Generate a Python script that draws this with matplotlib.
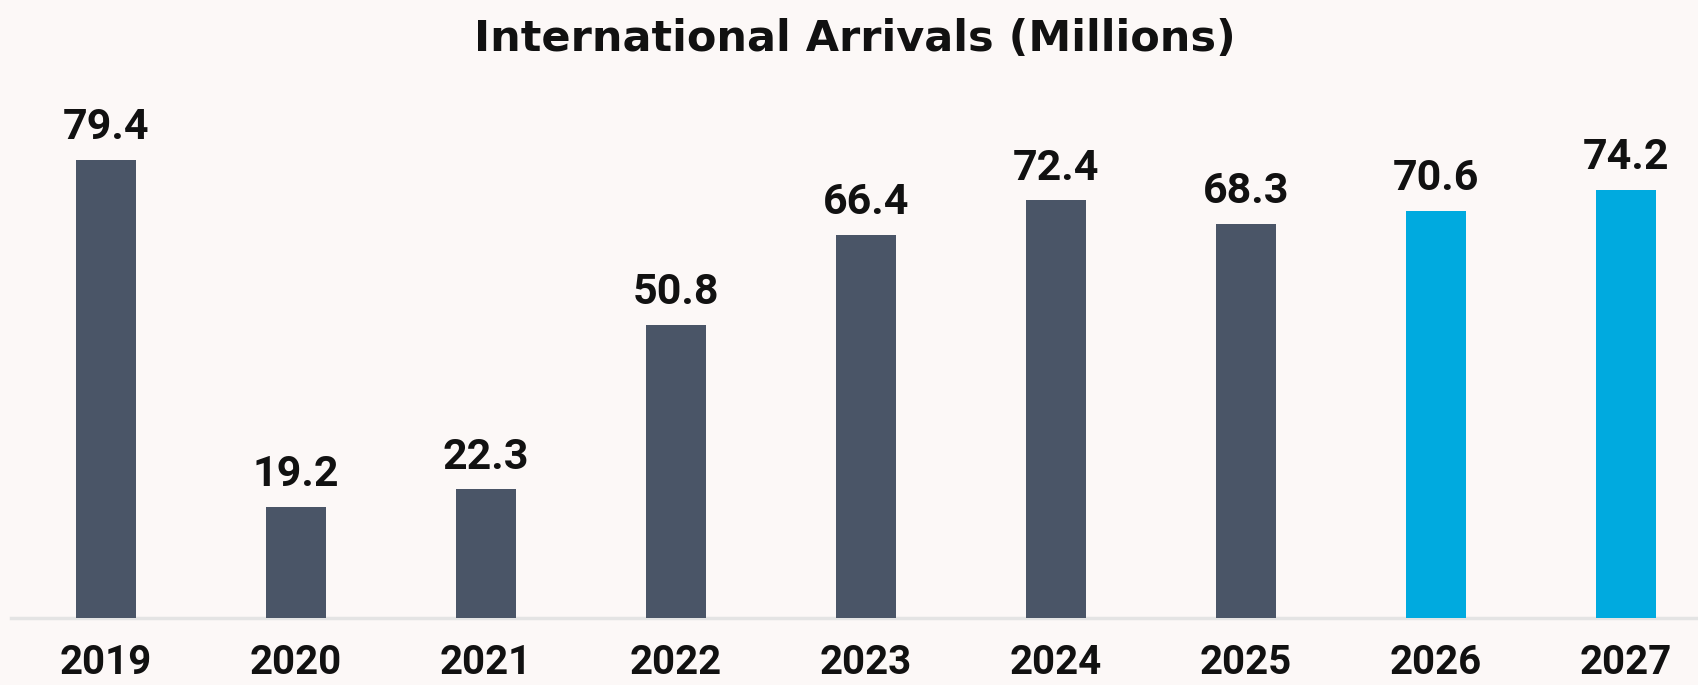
import matplotlib.pyplot as plt

years = ["2019", "2020", "2021", "2022", "2023", "2024", "2025", "2026", "2027"]
arrivals = [79.4, 19.2, 22.3, 50.8, 66.4, 72.4, 68.3, 70.6, 74.2]
forecast = [False, False, False, False, False, False, False, True, True]

plt.rcParams['font.family'] = ['Roboto', 'DejaVu Sans']

bg = "#fcf8f7"
dark = "#4a5567"
blue = "#00aadf"

fig = plt.figure(figsize=(16.98, 6.85), dpi=100, facecolor=bg)
ax = fig.add_axes([11 / 1698, 67 / 685, 1 - 11 / 1698, 518 / 685])
ax.set_facecolor(bg)

x = list(range(len(years)))
colors = [blue if f else dark for f in forecast]
bars = ax.bar(x, arrivals, width=0.315, color=colors, zorder=2)

# value labels above bars
for b, v in zip(bars, arrivals):
    ax.annotate(f"{v:.1f}", (b.get_x() + b.get_width() / 2, v),
                xytext=(0, 15), textcoords="offset points",
                ha="center", va="baseline", fontsize=31, fontweight="bold",
                color="#111111")

ax.set_xlim(-0.5, 8.38)
ax.set_ylim(0, 89.8)

for s in ["top", "right", "left"]:
    ax.spines[s].set_visible(False)
ax.spines["bottom"].set_color("#e4e4e4")
ax.spines["bottom"].set_linewidth(2.5)
ax.spines["bottom"].set_zorder(1)

ax.set_yticks([])
ax.set_xticks(x)
ax.set_xticklabels(years, fontsize=29, fontweight="bold", color="#111111")
ax.tick_params(axis="x", length=0, pad=40)
for lbl in ax.get_xticklabels():
    lbl.set_va("baseline")

fig.text(855 / 1698, 1 - 51 / 685, "International Arrivals (Millions)",
         ha="center", va="baseline", fontsize=31, fontweight="bold",
         color="#111111", family="DejaVu Sans")

fig.savefig("out.png", dpi=100, facecolor=bg)
